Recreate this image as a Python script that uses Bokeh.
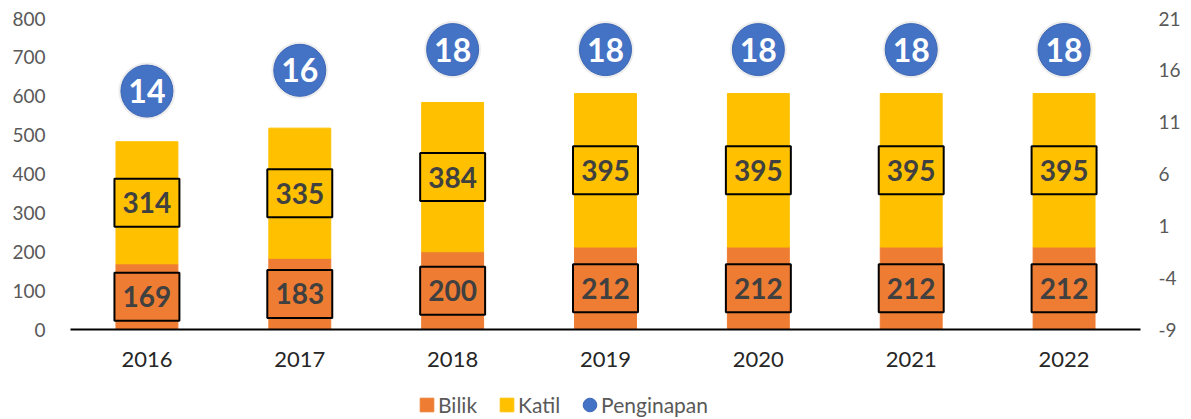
from bokeh.plotting import figure
from bokeh.layouts import column
from bokeh.models import (ColumnDataSource, Range1d, LinearAxis, FixedTicker,
                          Legend, LegendItem, FactorRange)
from bokeh.embed import file_html
from bokeh.resources import INLINE
from bokeh.core.properties import value

years = ["2016", "2017", "2018", "2019", "2020", "2021", "2022"]
bilik = [169, 183, 200, 212, 212, 212, 212]
katil = [314, 335, 384, 395, 395, 395, 395]
penginapan = [14, 16, 18, 18, 18, 18, 18]
left_ticks = [0, 100, 200, 300, 400, 500, 600, 700, 800]
right_ticks = [-9, -4, 1, 6, 11, 16, 21]
series_names = ["Bilik", "Katil", "Penginapan"]

FONT = "Lato"
C_BILIK = "#EE7D33"
C_KATIL = "#FFC000"
C_BLUE = "#4472C4"

src = ColumnDataSource(dict(
    year=years,
    bilik=bilik,
    katil=katil,
    bmid=[b / 2 for b in bilik],
    kmid=[b + k / 2 for b, k in zip(bilik, katil)],
    peng=penginapan,
    bl=[str(v) for v in bilik],
    kl=[str(v) for v in katil],
    pl=[str(v) for v in penginapan],
))

p = figure(x_range=FactorRange(*years, range_padding=0),
           y_range=Range1d(left_ticks[0], left_ticks[-1]),
           width=1185, height=383, output_backend="svg",
           toolbar_location=None, outline_line_color=None,
           min_border_left=70, min_border_right=45, min_border_top=18,
           min_border_bottom=54)
p.extra_y_ranges = {"right": Range1d(right_ticks[0], right_ticks[-1])}
p.grid.visible = False

# left axis
ya = p.yaxis[0]
ya.ticker = FixedTicker(ticks=left_ticks)
ya.axis_line_color = None
ya.major_tick_line_color = None
ya.minor_tick_line_color = None
ya.major_tick_out = 0
ya.minor_tick_out = 0
ya.major_label_text_font = FONT
ya.major_label_text_font_size = "19px"
ya.major_label_text_color = "#595959"
ya.major_label_standoff = 25

# right axis
ra = LinearAxis(y_range_name="right", ticker=FixedTicker(ticks=right_ticks))
ra.major_label_overrides = {t: str(t) for t in right_ticks}
ra.axis_line_color = None
ra.major_tick_line_color = None
ra.minor_tick_line_color = None
ra.major_tick_out = 0
ra.minor_tick_out = 0
ra.major_label_text_font = FONT
ra.major_label_text_font_size = "19px"
ra.major_label_text_color = "#595959"
ra.major_label_standoff = 18
p.add_layout(ra, "right")

# x axis
xa = p.xaxis[0]
xa.axis_line_color = "#000000"
xa.axis_line_width = 2
xa.major_tick_line_color = None
xa.minor_tick_line_color = None
xa.major_tick_out = 0
xa.minor_tick_out = 0
xa.major_label_text_font = FONT
xa.major_label_text_font_size = "22px"
xa.major_label_text_color = "#262626"
xa.major_label_standoff = 22

# bars
p.vbar_stack(["bilik", "katil"], x="year", width=0.405,
             color=[C_BILIK, C_KATIL], source=src)

# label boxes
p.rect(x="year", y="bmid", width=0.425, height=48, height_units="screen",
       fill_color=C_BILIK, line_color="#000000", line_width=2, source=src)
p.rect(x="year", y="kmid", width=0.425, height=48, height_units="screen",
       fill_color=C_KATIL, line_color="#000000", line_width=2, source=src)
for col, ycol in (("bl", "bmid"), ("kl", "kmid")):
    p.text(x="year", y=ycol, text=col, source=src, text_align="center",
           text_baseline="middle", text_font=value(FONT), text_font_style="bold",
           text_font_size="28px", text_color="#404040")

# bubbles
p.ellipse(x="year", y="peng", width=57, height=57, width_units="screen",
          height_units="screen", y_range_name="right", fill_color="#000000",
          fill_alpha=0.07, line_color=None, source=src)
p.ellipse(x="year", y="peng", width=52, height=52, width_units="screen",
          height_units="screen", y_range_name="right", fill_color=C_BLUE,
          line_color="#3B66B5", line_width=1, source=src)
p.text(x="year", y="peng", text="pl", source=src, y_range_name="right",
       text_align="center", text_baseline="middle", text_font=value(FONT),
       text_font_style="bold", text_font_size="32px", text_color="#FFFFFF")

# legend strip (separate small figure below the chart)
lg = figure(width=1185, height=35, output_backend="svg", toolbar_location=None,
            x_range=Range1d(0, 1), y_range=Range1d(0, 1),
            min_border_left=0, min_border_right=0, min_border_top=0,
            min_border_bottom=0, outline_line_color=None)
lg.axis.visible = False
lg.grid.visible = False
nan = float("nan")
lb = lg.vbar(x=[nan], top=[nan], width=0.1, color=C_BILIK)
lk = lg.vbar(x=[nan], top=[nan], width=0.1, color=C_KATIL)
lp = lg.ellipse(x=[nan], y=[nan], width=14, height=14, width_units="screen",
                height_units="screen", fill_color=C_BLUE, line_color="#3B66B5")
legend = Legend(items=[LegendItem(label=series_names[0], renderers=[lb]),
                       LegendItem(label=series_names[1], renderers=[lk]),
                       LegendItem(label=series_names[2], renderers=[lp])],
                orientation="horizontal", location=(348, 1),
                border_line_color=None, background_fill_alpha=0,
                label_text_font=FONT, label_text_font_size="21px",
                label_text_color="#595959", glyph_width=17, glyph_height=17,
                label_standoff=3, spacing=21, padding=0, margin=0)
lg.add_layout(legend)

open("out.html", "w").write(file_html(column(p, lg, spacing=0), INLINE))
